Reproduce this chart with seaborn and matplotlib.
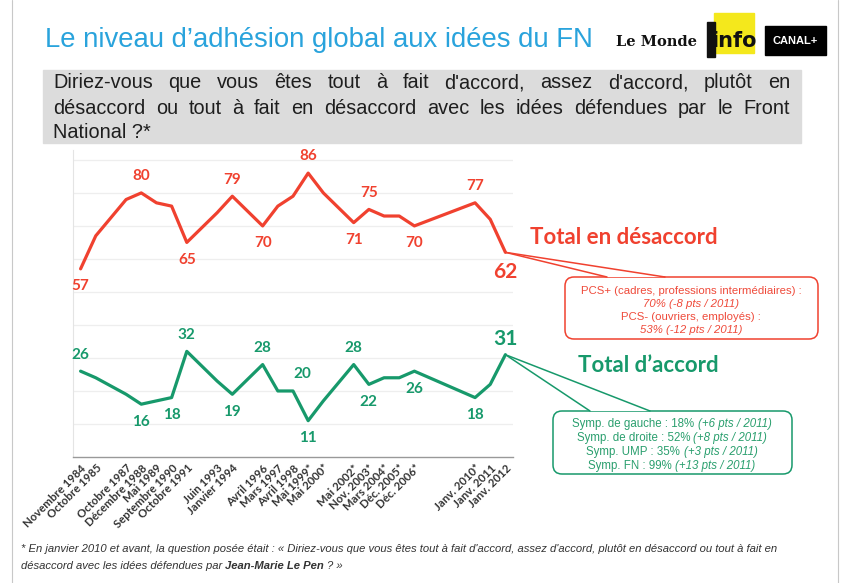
import numpy as np
import pandas as pd
import matplotlib
matplotlib.use("Agg")
import matplotlib.pyplot as plt
import seaborn as sns
from matplotlib.patches import FancyBboxPatch, Rectangle, Polygon

nan = np.nan

# one slot per year, blank label = no poll that year
periods = ["Novembre 1984", "Octobre 1985", "", "Octobre 1987", "Décembre 1988", "Mai 1989",
           "Septembre 1990", "Octobre 1991", "", "Juin 1993", "Janvier 1994", "",
           "Avril 1996", "Mars 1997", "Avril 1998", "Mai 1999*", "Mai 2000*", "",
           "Mai 2002*", "Nov. 2003*", "Mars 2004*", "Déc. 2005*", "Déc. 2006*", "", "", "",
           "Janv. 2010*", "Janv. 2011", "Janv. 2012"]
desaccord = [57, 67, nan, 78, 80, 77, 76, 65, nan, 74, 79, nan, 70, 76, 79, 86, 80, nan,
             71, 75, 73, 73, 70, nan, nan, nan, 77, 72, 62]
accord = [26, 24, nan, 19, 16, 17, 18, 32, nan, 23, 19, nan, 28, 20, 20, 11, 17, nan,
          28, 22, 24, 24, 26, nan, nan, nan, 18, 22, 31]

# which points get their value printed
shown_desaccord = [0, 4, 7, 10, 12, 15, 18, 19, 22, 26, 28]
shown_accord = [0, 4, 6, 7, 10, 12, 14, 15, 18, 19, 22, 26, 28]

title = "Le niveau d’adhésion global aux idées du FN"
question = ["Diriez-vous que vous êtes tout à fait d'accord, assez d'accord, plutôt en",
            "désaccord ou tout à fait en désaccord avec les idées défendues par le Front",
            "National ?*"]
note_desaccord = [("PCS+ (cadres, professions intermédiaires) :", "normal"),
                  ("70% (-8 pts / 2011)", "italic"),
                  ("PCS- (ouvriers, employés) :", "normal"),
                  ("53% (-12 pts / 2011)", "italic")]
note_accord = [("Symp. de gauche : 18%", "(+6 pts / 2011)"),
               ("Symp. de droite : 52%", "(+8 pts / 2011)"),
               ("Symp. UMP : 35%", "(+3 pts / 2011)"),
               ("Symp. FN : 99%", "(+13 pts / 2011)")]
footnote_1 = ("* En janvier 2010 et avant, la question posée était : « Diriez-vous que vous êtes "
              "tout à fait d'accord, assez d'accord, plutôt en désaccord ou tout à fait en")
footnote_2 = [("désaccord avec les idées défendues par", "normal"),
              ("Jean-Marie Le Pen", "bold"), ("? »", "normal")]

RED = "#f0412f"
GREEN = "#17996b"
BLUE = "#29a3dc"

sns.set_style("white")
plt.rcParams['font.family'] = ['Liberation Sans', 'DejaVu Sans']

W, H = 842, 583
fig = plt.figure(figsize=(W / 100, H / 100), dpi=100)
ax = fig.add_axes([73 / W, 1 - 457 / H, 440 / W, 307 / H])

pos = np.arange(len(periods))
df = pd.DataFrame({
    "pos": np.concatenate([pos, pos]),
    "valeur": desaccord + accord,
    "serie": ["Total en désaccord"] * len(pos) + ["Total d’accord"] * len(pos),
}).dropna()

sns.lineplot(data=df, x="pos", y="valeur", hue="serie",
             palette={"Total en désaccord": RED, "Total d’accord": GREEN},
             linewidth=2.3, estimator=None, legend=False, ax=ax)

ax.set_xlim(-0.5, len(periods) - 0.5)
ax.set_ylim(0, 93)
ax.set_yticks(np.arange(10, 100, 10))
ax.set_yticklabels([])
ax.tick_params(axis='y', length=0)
ax.grid(axis='y', color='#eeeeee', lw=0.9)
ax.set_axisbelow(True)
ax.set_xlabel("")
ax.set_ylabel("")
ax.set_xticks(np.arange(-0.5, len(periods), 1))
ax.set_xticklabels([])
ax.tick_params(axis='x', which='major', length=4, color='#999999', width=0.8)
ax.set_xticks(pos, labels=periods, minor=True)
ax.tick_params(axis='x', which='minor', length=0, pad=4)
for lab in ax.get_xticklabels(minor=True):
    lab.set(rotation=45, ha='right', va='top', rotation_mode='anchor',
            fontfamily='Lato', fontweight='bold', fontsize=8.2, color='#333333')
for s in ['top', 'right']:
    ax.spines[s].set_visible(False)
ax.spines['left'].set_color('#e4e4e4')
ax.spines['bottom'].set_color('#999999')
ax.spines['bottom'].set_linewidth(1)

# value labels
up_desaccord = {4, 10, 15, 19, 26}
up_accord = {0, 7, 12, 14, 18, 28}
last = len(periods) - 1
for vals, shown, up, col in [(desaccord, shown_desaccord, up_desaccord, RED),
                             (accord, shown_accord, up_accord, GREEN)]:
    for i in shown:
        big = i == last
        dy = 12 if i in up else -12.5
        dx = 0
        if big:
            dy = 11 if i in up else -14
        if vals is accord and i == 14:
            dx = 7
        ax.annotate(f"{vals[i]:.0f}", (i, vals[i]), xytext=(dx, dy), textcoords='offset points',
                    ha='center', va='center', color=col, fontfamily='Lato', fontweight='bold',
                    fontsize=15 if big else 11)

# overlay in pixel coordinates
ov = fig.add_axes([0, 0, 1, 1])
ov.set_xlim(0, W)
ov.set_ylim(H, 0)
ov.axis('off')
r = fig.canvas.get_renderer()


def width(t):
    return t.get_window_extent(r).width


def space_width(**kw):
    a = ov.text(0, -100, "a a", **kw)
    b = ov.text(0, -100, "aa", **kw)
    w = width(a) - width(b)
    a.remove()
    b.remove()
    return w


def runs(x, y, pieces, center=False, **kw):
    texts = []
    for txt, style in pieces:
        extra = {'fontstyle': 'italic'} if style == 'italic' else {}
        if style == 'bold':
            extra = {'fontweight': 'bold'}
        texts.append(ov.text(0, y, txt, ha='left', va='center', **kw, **extra))
    sp = space_width(**kw)
    ws = [width(t) for t in texts]
    total = sum(ws) + sp * (len(ws) - 1)
    cx = x - total / 2 if center else x
    for t, w in zip(texts, ws):
        t.set_x(cx)
        cx += w + sp


def point_px(i, v):
    d = ax.transData.transform((i, v))
    return ov.transData.inverted().transform(d)


# frame of the slide
ov.plot([12, 12], [0, H], color='#c8c8c8', lw=0.8)
ov.plot([838, 838], [0, H], color='#c8c8c8', lw=0.8)

# title and logos
ov.text(45, 40, title, color=BLUE, fontsize=19.8, ha='left', va='center')
ov.text(656, 42, "Le Monde", fontfamily='DejaVu Serif', fontweight='bold', fontsize=10.5,
        ha='center', va='center', color='#111111')
ov.add_patch(Rectangle((714, 13), 40, 40, color='#f4e81c'))
ov.add_patch(Rectangle((707, 22), 8, 35, color='#111111'))
ov.text(734, 41, "info", fontfamily='Liberation Sans Narrow', fontweight='bold', fontsize=15,
        ha='center', va='center', color='#111111')
ov.add_patch(Rectangle((765, 26), 61, 29, color='#000000'))
ov.text(795.5, 40.5, "CANAL+", fontweight='bold', fontsize=8, ha='center', va='center', color='white')

# question box
ov.add_patch(Rectangle((43, 70), 758, 73, color='#dcdcdc'))
q_kw = dict(fontsize=14.3, color='#1e1e1e')
for k, (line, y) in enumerate(zip(question, [83, 108, 132])):
    words = line.split()
    if k == len(question) - 1:
        ov.text(53, y, line, ha='left', va='center', **q_kw)
        continue
    texts = [ov.text(0, y, w, ha='left', va='center', **q_kw) for w in words]
    ws = [width(t) for t in texts]
    gap = (790 - 53 - sum(ws)) / (len(words) - 1)
    x = 53
    for t, w in zip(texts, ws):
        t.set_x(x)
        x += w + gap

# series names
ov.text(530, 237, "Total en désaccord", color=RED, fontfamily='Lato', fontweight='bold',
        fontsize=16, ha='left', va='center')
ov.text(578, 366, "Total d’accord", color=GREEN, fontfamily='Lato', fontweight='bold',
        fontsize=16, ha='left', va='center')


def callout(box, base, tip, col):
    x0, y0, x1, y1 = box
    ov.add_patch(FancyBboxPatch((x0, y0), x1 - x0, y1 - y0, boxstyle="round,pad=0,rounding_size=9",
                                fc='white', ec=col, lw=1.1))
    ov.add_patch(Polygon([tip, (base[0], y0), (base[1], y0)], closed=True, fc='white', ec='none'))
    ov.plot([tip[0], base[0]], [tip[1], y0], color=col, lw=1.1)
    ov.plot([tip[0], base[1]], [tip[1], y0], color=col, lw=1.1)


tip_r = point_px(last, desaccord[last])
callout((565, 277, 818, 339), (607, 665), tip_r, RED)
for (txt, style), y in zip(note_desaccord, [291.5, 304, 317, 330]):
    ov.text(691, y, txt, ha='center', va='center', fontsize=8.2, color='#ef4a3a', fontstyle=style)

tip_g = point_px(last, accord[last])
callout((553, 411, 792, 474), (590, 650), tip_g, GREEN)
for (a, b), y in zip(note_accord, [423.5, 437.5, 451.5, 465.5]):
    runs(672, y, [(a, "normal"), (b, "italic")], center=True, fontsize=8.3, color='#2a9f6e')

# footnote
ov.text(21, 549, footnote_1, ha='left', va='center', fontsize=8.1, fontstyle='italic', color='#333333')
runs(21, 566, footnote_2, fontsize=8.1, fontstyle='italic', color='#333333')

fig.savefig("out.png", dpi=100, facecolor='white')
